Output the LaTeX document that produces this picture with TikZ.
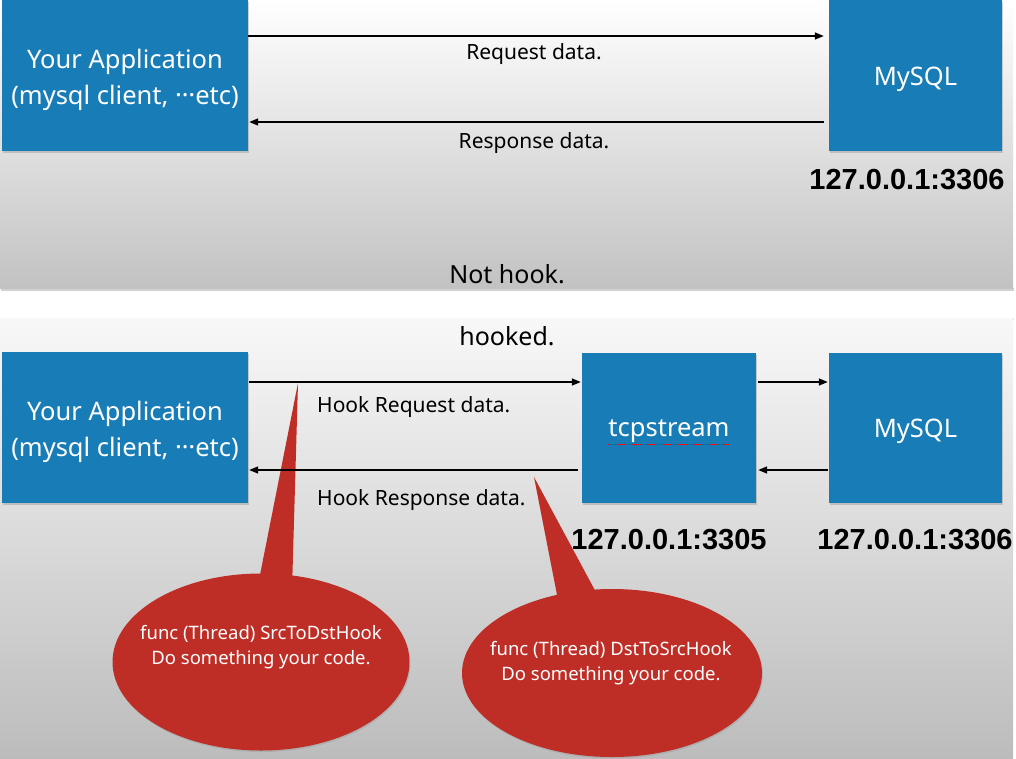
\documentclass[tikz,border=0pt]{standalone}
\usepackage{fontspec}
\setmainfont{Noto Sans}
\newfontfamily\addrfont{Liberation Sans}
\usetikzlibrary{shapes.geometric,shadows,arrows.meta}
\definecolor{boxblue}{RGB}{24,124,182}
\definecolor{bubred}{RGB}{190,46,38}
\definecolor{panelbot}{RGB}{194,194,194}
\definecolor{panelbotB}{RGB}{188,188,188}
\definecolor{paneltopB}{RGB}{248,248,248}
\begin{document}
\begin{tikzpicture}[x=1pt,y=-1pt,
  box/.style={fill=boxblue, inner sep=0pt,
    drop shadow={shadow xshift=1pt, shadow yshift=-1.5pt, opacity=0.35}},
  boxtext/.style={text=white, inner sep=0pt, align=center,
    font=\fontsize{25.5}{36}\selectfont},
  arr/.style={-{Triangle[length=9pt,width=7pt]}, line width=1.4pt},
  lbl/.style={font=\fontsize{21}{24}\selectfont, inner sep=0pt},
  ttl/.style={font=\fontsize{25}{28}\selectfont, inner sep=0pt},
  addr/.style={font=\addrfont\bfseries\fontsize{29}{32}\selectfont, inner sep=0pt},
  bubble/.style={ellipse, fill=bubred, inner sep=0pt,
    drop shadow={shadow xshift=1pt, shadow yshift=-1.5pt, opacity=0.25}},
  bubtext/.style={text=white, font=\fontsize{18.5}{20}\selectfont, inner sep=0pt},
  tail/.style={fill=bubred}
]
\useasboundingbox (0,0) rectangle (1016,758);
\fill[white] (0,0) rectangle (1016,758);
% panels
\fill[black, opacity=0.18] (1,288) rectangle (1014,291);
\shade[top color=white, bottom color=panelbot] (0,0) rectangle (1013,288);
\fill[black, opacity=0.10] (1,318) rectangle (1014,320);
\shade[top color=paneltopB, bottom color=panelbotB] (0,318) rectangle (1013,758);

% top panel
\node[box, minimum width=246pt, minimum height=151pt] (appT) at (125,75.5) {};
\node[boxtext] (appTt) at ([yshift=-4pt]appT.center)
  {Your Application\\(mysql client, \raisebox{0.3em}{…}etc)};
\node[box, minimum width=173pt, minimum height=151pt] (mysqlT) at (915.5,75.5) {};
\node[boxtext] (mysqlTt) at ([yshift=-3.5pt]mysqlT.center) {MySQL};
\draw[arr, shorten >=5pt] (appT.east |- 0,36) -- (mysqlT.west |- 0,36);
\draw[arr, shorten <=5pt, shorten >=1pt] (mysqlT.west |- 0,122) -- (appT.east |- 0,122);
\node[lbl] (req) at (534,54) {Request data.};
\node[lbl] (resp) at (534,143) {Response data.};
\node[addr] (addrT) at (907,180) {127.0.0.1:3306};
\node[ttl] (nothook) at (507,274) {Not hook.};

% bottom panel
\node[ttl] (hooked) at (507,336) {hooked.};

% bubble tails (drawn beneath arrows)
\coordinate (tipL) at (298,383);
\coordinate (tipR) at (534,477);
\fill[tail] (tipL) -- (257,590) -- (292,590) -- cycle;
\fill[tail] (tipR) -- (558,600) -- (598,596) -- cycle;

\node[box, minimum width=246pt, minimum height=151pt] (appB) at (125,427.5) {};
\node[boxtext] (appBt) at ([yshift=-4pt]appB.center)
  {Your Application\\(mysql client, \raisebox{0.3em}{…}etc)};
\node[box, minimum width=174pt, minimum height=150pt] (tcp) at (669,428) {};
\node[boxtext] (tcpt) at ([yshift=-3.5pt]tcp.center) {tcpstream};
\node[box, minimum width=173pt, minimum height=150pt] (mysqlB) at (915.5,428) {};
\node[boxtext] (mysqlBt) at ([yshift=-3.5pt]mysqlB.center) {MySQL};
\draw[red, densely dotted, line width=1.3pt] ([yshift=-1pt]tcpt.south west) -- ([yshift=-1pt]tcpt.south east);

\draw[arr, shorten <=1pt, shorten >=1pt] (appB.east |- 0,382) -- (tcp.west |- 0,382);
\draw[arr, shorten <=4pt, shorten >=1pt] (tcp.west |- 0,470) -- (appB.east |- 0,470);
\draw[arr, shorten <=2pt, shorten >=1pt] (tcp.east |- 0,382) -- (mysqlB.west |- 0,382);
\draw[arr, shorten <=1pt, shorten >=2pt] (mysqlB.west |- 0,470) -- (tcp.east |- 0,470);

\node[lbl, anchor=west] (hreq) at (317,407) {Hook Request data.};
\node[lbl, anchor=west] (hresp) at (317,500) {Hook Response data.};
\node[addr] (addrTcp) at (669,540) {127.0.0.1:3305};
\node[addr] (addrB) at (915,540) {127.0.0.1:3306};

% bubbles
\node[bubble, minimum width=297pt, minimum height=177pt] (bubL) at (261,662) {};
\node[bubble, minimum width=300pt, minimum height=168pt] (bubR) at (612,673) {};
\node[bubtext] (fL) at (261,634) {func (Thread) SrcToDstHook};
\node[bubtext] (dL) at (261,660) {Do something your code.};
\node[bubtext] (fR) at (611,650) {func (Thread) DstToSrcHook};
\node[bubtext] (dR) at (611,676) {Do something your code.};
\end{tikzpicture}
\end{document}
